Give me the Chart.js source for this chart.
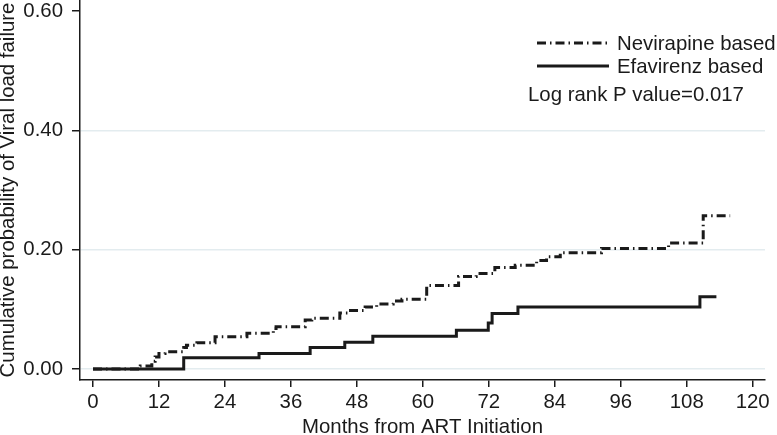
<!DOCTYPE html>
<html>
<head>
<meta charset="utf-8">
<script src="https://cdn.jsdelivr.net/npm/chart.js@4/dist/chart.umd.min.js"></script>
<style>
  body { margin: 0; background: #fff; }
  canvas { display: block; }
</style>
</head>
<body>
<canvas id="kmChart" width="777" height="435"></canvas>
<script>
// Kaplan-Meier style cumulative failure
const nvpMonths = [0, 8.6, 10.7, 11.3, 12.0, 13.1, 16.5, 17.0, 18.9, 22.2, 28.0, 32.8, 33.3, 38.6, 39.8, 44.9, 46.4, 49.5, 51.6, 54.6, 56.2, 60.7, 66.5, 69.7, 73.1, 76.8, 80.7, 82.5, 85.0, 92.5, 104.7, 111.0, 115.9];
const nvpProb   = [0, 0.005, 0.013, 0.020, 0.026, 0.029, 0.036, 0.040, 0.044, 0.054, 0.060, 0.068, 0.071, 0.082, 0.085, 0.094, 0.098, 0.104, 0.109, 0.114, 0.117, 0.140, 0.155, 0.160, 0.170, 0.174, 0.182, 0.188, 0.195, 0.202, 0.211, 0.257, 0.257];

const efvMonths = [0, 16.5, 30.2, 39.5, 45.8, 50.9, 66.1, 71.9, 72.6, 77.3, 110.4, 113.4];
const efvProb   = [0, 0.019, 0.026, 0.036, 0.045, 0.055, 0.065, 0.077, 0.093, 0.104, 0.121, 0.121];

const xTicks = [0, 12, 24, 36, 48, 60, 72, 84, 96, 108, 120];
const yTicks = [0, 0.2, 0.4, 0.6];

const seriesNames = ["Nevirapine based", "Efavirenz based"];
const pValueText = "Log rank P value=0.017";

const FONT = "'Liberation Sans', Arial, Helvetica, sans-serif";
const INK = "#1a1a1a";
const LINE_W = 3;
const NVP_DASH = [9, 4, 1.5, 4];

function toPoints(xs, ys) {
  return xs.map((x, i) => ({ x: x, y: ys[i] }));
}

// legend and annotation drawn by hand, the built-in legend can't sit there
const legendPlugin = {
  id: "kmLegend",
  afterDraw(chart) {
    const ctx = chart.ctx;
    ctx.save();
    ctx.strokeStyle = INK;
    ctx.lineWidth = LINE_W;

    ctx.setLineDash(NVP_DASH);
    ctx.beginPath();
    ctx.moveTo(537, 43);
    ctx.lineTo(609, 43);
    ctx.stroke();

    ctx.setLineDash([]);
    ctx.beginPath();
    ctx.moveTo(537, 66);
    ctx.lineTo(609, 66);
    ctx.stroke();

    ctx.fillStyle = INK;
    ctx.font = "20.4px " + FONT;
    ctx.textBaseline = "alphabetic";
    ctx.textAlign = "left";
    ctx.fillText(seriesNames[0], 617, 50);
    ctx.fillText(seriesNames[1], 617, 73);
    ctx.fillText(pValueText, 528, 101);
    ctx.restore();
  }
};

new Chart(document.getElementById("kmChart"), {
  type: "line",
  data: {
    datasets: [
      {
        label: seriesNames[0],
        data: toPoints(nvpMonths, nvpProb),
        borderColor: INK,
        borderWidth: LINE_W,
        borderDash: NVP_DASH,
        stepped: true,
        pointRadius: 0,
        fill: false
      },
      {
        label: seriesNames[1],
        data: toPoints(efvMonths, efvProb),
        borderColor: INK,
        borderWidth: LINE_W,
        stepped: true,
        pointRadius: 0,
        fill: false
      }
    ]
  },
  options: {
    responsive: false,
    animation: false,
    layout: { padding: { top: 0, right: 12, bottom: 0, left: 0 } },
    plugins: {
      legend: { display: false },
      tooltip: { enabled: false }
    },
    scales: {
      x: {
        type: "linear",
        min: -2.365,
        max: 122.24,
        afterBuildTicks: (scale) => { scale.ticks = xTicks.map(v => ({ value: v })); },
        afterFit: (scale) => { scale.height = 55; scale.paddingLeft = 0; scale.paddingRight = 0; },
        border: { display: true, color: INK, width: 1.5 },
        grid: {
          drawOnChartArea: false,
          color: INK,
          tickColor: INK,
          tickLength: 7,
          lineWidth: 1.5
        },
        ticks: {
          color: INK,
          padding: 3,
          maxRotation: 0,
          autoSkip: false,
          font: { family: FONT, size: 20.4 }
        },
        title: {
          display: true,
          text: "Months from ART Initiation",
          color: INK,
          font: { family: FONT, size: 20.4, lineHeight: 0.7 },
          padding: { top: 0, bottom: 0 }
        }
      },
      y: {
        min: -0.01843,
        max: 0.61843,
        afterBuildTicks: (scale) => { scale.ticks = yTicks.map(v => ({ value: v })); },
        afterFit: (scale) => { scale.width = 80; scale.paddingTop = 0; scale.paddingBottom = 0; },
        border: { display: true, color: INK, width: 1.5 },
        grid: {
          color: (c) => (c.tick && c.tick.value > 0.5 ? "rgba(0,0,0,0)" : "#e3ecef"),
          tickColor: INK,
          tickLength: 8,
          lineWidth: 1.5
        },
        ticks: {
          color: INK,
          padding: 9,
          autoSkip: false,
          font: { family: FONT, size: 20.4 },
          callback: (v) => Number(v).toFixed(2)
        },
        title: {
          display: true,
          text: "Cumulative probability of Viral load failure",
          color: INK,
          font: { family: FONT, size: 20.4, lineHeight: 0.8 },
          padding: { top: 0, bottom: 0 }
        }
      }
    }
  },
  plugins: [legendPlugin]
});
</script>
</body>
</html>
